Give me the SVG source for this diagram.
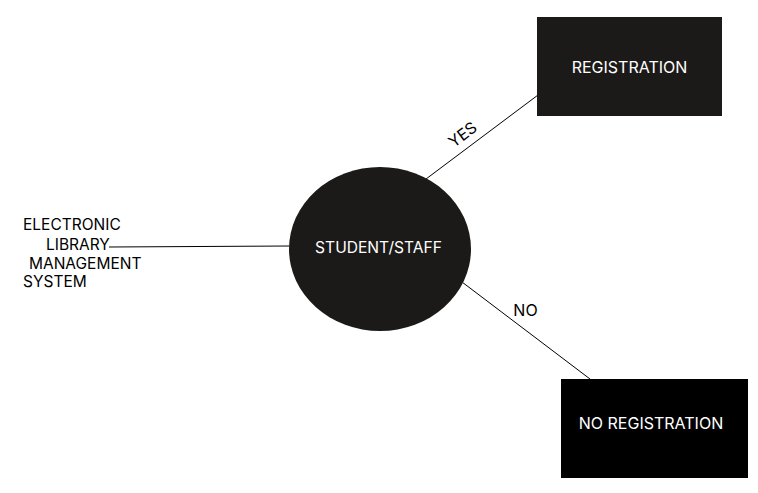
<svg xmlns="http://www.w3.org/2000/svg" width="758" height="493" viewBox="0 0 758 493">
<style>
text{font-family:Inter,"Liberation Sans",sans-serif;font-size:16px}
.w{fill:#ffffff}
.k{fill:#000000}
.lt{font-size:15.5px}
.ln{stroke:#000;stroke-width:1;fill:none}
</style>
<rect width="758" height="493" fill="#fff"/>
<g id="connectors">
<line class="ln" x1="109" y1="247" x2="290" y2="246"/>
<line class="ln" x1="426" y1="179" x2="538" y2="95"/>
<line class="ln" x1="462" y1="282" x2="590" y2="379"/>
<text class="k" transform="translate(466,139) rotate(-37)" text-anchor="middle">YES</text>
<text class="k" x="525.5" y="316" text-anchor="middle">NO</text>
</g>
<g id="elms">
<text class="k lt" x="23" y="230">ELECTRONIC</text>
<text class="k lt" x="46" y="250">LIBRARY</text>
<text class="k lt" x="29" y="269">MANAGEMENT</text>
<text class="k lt" x="23" y="287">SYSTEM</text>
</g>
<g id="student">
<ellipse cx="380" cy="249" rx="91" ry="82" fill="#1c1a18"/>
<text class="w" x="378.5" y="253" text-anchor="middle" style="font-size:15.6px">STUDENT/STAFF</text>
</g>
<g id="registration">
<rect x="537" y="17" width="185" height="99" fill="#1c1a18"/>
<text class="w" x="629.5" y="73" text-anchor="middle">REGISTRATION</text>
</g>
<g id="noregistration">
<rect x="561" y="379" width="187" height="99" fill="#000"/>
<text class="w" x="651" y="429" text-anchor="middle">NO REGISTRATION</text>
</g>
</svg>
